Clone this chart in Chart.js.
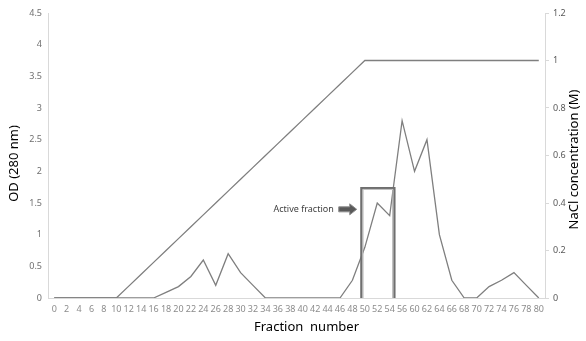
<!DOCTYPE html>
<html>
<head>
<meta charset="utf-8">
<script src="https://cdn.jsdelivr.net/npm/chart.js"></script>
<style>
    body { margin: 0; background: #fff; }
    #wrap { width: 586px; height: 341px; }
</style>
</head>
<body>
<div id="wrap"><canvas id="elution-chart"></canvas></div>

<script>
    // Fraction numbers (58 is not on the original axis)
    var fractions = [0, 2, 4, 6, 8, 10, 12, 14, 16, 18, 20, 22, 24, 26, 28, 30, 32, 34, 36, 38,
                     40, 42, 44, 46, 48, 50, 52, 54, 56, 60, 62, 64, 66, 68, 70, 72, 74, 76, 78, 80];

    // OD at 280 nm
    var odValues = [0, 0, 0, 0, 0, 0, 0, 0, 0, 0.09, 0.18, 0.34, 0.6, 0.2, 0.7, 0.4, 0.2, 0, 0, 0,
                    0, 0, 0, 0, 0.28, 0.8, 1.5, 1.3, 2.8, 2.0, 2.5, 1.0, 0.28, 0, 0, 0.18, 0.28, 0.4, 0.2, 0];

    // NaCl gradient (M)
    var naclValues = [0, 0, 0, 0, 0, 0, 0.05, 0.1, 0.15, 0.2, 0.25, 0.3, 0.35, 0.4, 0.45, 0.5, 0.55, 0.6, 0.65, 0.7,
                      0.75, 0.8, 0.85, 0.9, 0.95, 1, 1, 1, 1, 1, 1, 1, 1, 1, 1, 1, 1, 1, 1, 1];

    var odTicks = [0, 0.5, 1, 1.5, 2, 2.5, 3, 3.5, 4, 4.5];
    var naclTicks = [0, 0.2, 0.4, 0.6, 0.8, 1, 1.2];

    // Active fraction bracket: from / to fraction, top (OD), arrow level (OD)
    var activeRange = [49.5, 54.7];
    var activeTop = 1.73;
    var arrowLevel = 1.4;

    var grey = '#7f7f7f';
    var titleFont = '13px "Noto Sans", sans-serif';

    function fractionIndex(f) {
        for (var i = 0; i < fractions.length - 1; i++) {
            if (f >= fractions[i] && f <= fractions[i + 1]) {
                return i + (f - fractions[i]) / (fractions[i + 1] - fractions[i]);
            }
        }
        return fractions.length - 1;
    }

    function plainTick(v) { return String(Math.round(v * 10) / 10); }

    // bracket + arrow + label, and the axis titles (both side titles read bottom to top)
    var activeFractionPlugin = {
        id: 'activeFraction',
        afterDatasetsDraw: function(chart) {
            var ctx = chart.ctx;
            var x = chart.scales.x, y = chart.scales.y;
            var x1 = x.getPixelForValue(fractionIndex(activeRange[0]));
            var x2 = x.getPixelForValue(fractionIndex(activeRange[1]));
            var yTop = y.getPixelForValue(activeTop);
            var yBot = y.getPixelForValue(0);
            ctx.save();
            ctx.lineJoin = 'miter';
            ctx.strokeStyle = '#6f6f6f';
            ctx.lineWidth = 3;
            ctx.beginPath();
            ctx.moveTo(x1, yBot); ctx.lineTo(x1, yTop); ctx.lineTo(x2, yTop); ctx.lineTo(x2, yBot);
            ctx.stroke();
            ctx.strokeStyle = '#c8c8c8';
            ctx.lineWidth = 1;
            ctx.beginPath();
            ctx.moveTo(x1 + 1, yBot); ctx.lineTo(x1 + 1, yTop + 1); ctx.lineTo(x2 - 1, yTop + 1); ctx.lineTo(x2 - 1, yBot);
            ctx.stroke();

            // arrow
            var ay = y.getPixelForValue(arrowLevel);
            var tip = x1 - 5, tail = tip - 18;
            ctx.beginPath();
            ctx.moveTo(tail, ay - 2.5);
            ctx.lineTo(tip - 7, ay - 2.5);
            ctx.lineTo(tip - 7, ay - 5.5);
            ctx.lineTo(tip, ay);
            ctx.lineTo(tip - 7, ay + 5.5);
            ctx.lineTo(tip - 7, ay + 2.5);
            ctx.lineTo(tail, ay + 2.5);
            ctx.closePath();
            ctx.fillStyle = '#595959';
            ctx.fill();
            ctx.strokeStyle = '#8c8c8c';
            ctx.lineWidth = 1;
            ctx.stroke();

            ctx.fillStyle = '#404040';
            ctx.font = '9px "Noto Sans", sans-serif';
            ctx.textAlign = 'right';
            ctx.textBaseline = 'middle';
            ctx.fillText('Active fraction', tail - 5, ay);
            ctx.restore();
        },
        afterDraw: function(chart) {
            var ctx = chart.ctx;
            var area = chart.chartArea;
            var midY = (area.top + area.bottom) / 2 + 8;
            ctx.save();
            ctx.fillStyle = '#000';
            ctx.font = titleFont;
            ctx.textAlign = 'center';
            ctx.textBaseline = 'middle';
            ctx.fillText('Fraction  number', (area.left + area.right) / 2 + 10, 327);

            ctx.translate(14, midY);
            ctx.rotate(-Math.PI / 2);
            ctx.fillText('OD (280 nm)', 0, 0);
            ctx.restore();

            ctx.save();
            ctx.fillStyle = '#000';
            ctx.font = titleFont;
            ctx.textAlign = 'center';
            ctx.textBaseline = 'middle';
            ctx.translate(574, midY - 4);
            ctx.rotate(-Math.PI / 2);
            ctx.fillText('NaCl concentration (M)', 0, 0);
            ctx.restore();
        }
    };

    document.addEventListener("DOMContentLoaded", function() {
        Chart.defaults.font.family = '"Noto Sans", sans-serif';
        var ctx = document.getElementById('elution-chart').getContext('2d');
        var elutionChart = new Chart(ctx, {
            type: 'line',
            data: {
                labels: fractions,
                datasets: [{
                    label: 'OD (280 nm)',
                    data: odValues,
                    yAxisID: 'y',
                    borderColor: grey,
                    borderWidth: 1.3,
                    pointRadius: 0,
                    tension: 0
                }, {
                    label: 'NaCl (M)',
                    data: naclValues,
                    yAxisID: 'y1',
                    borderColor: grey,
                    borderWidth: 1.3,
                    pointRadius: 0,
                    tension: 0
                }]
            },
            options: {
                responsive: true,
                maintainAspectRatio: false,
                animation: false,
                layout: { padding: { top: 13 } },
                plugins: {
                    legend: { display: false },
                    tooltip: { enabled: false }
                },
                scales: {
                    x: {
                        type: 'category',
                        offset: true,
                        grid: { display: false, drawTicks: false },
                        border: { color: '#d9d9d9' },
                        ticks: {
                            autoSkip: false, maxRotation: 0, minRotation: 0,
                            color: '#8c8c8c', font: { size: 9 }, padding: 6
                        },
                        afterFit: function(scale) { scale.height = 43; }
                    },
                    y: {
                        position: 'left',
                        min: odTicks[0], max: odTicks[odTicks.length - 1],
                        afterBuildTicks: function(scale) {
                            scale.ticks = odTicks.map(function(v) { return { value: v }; });
                        },
                        grid: { display: false, drawTicks: false },
                        border: { color: '#d9d9d9' },
                        ticks: { color: '#6f6f6f', font: { size: 9 }, padding: 6, callback: plainTick },
                        afterFit: function(scale) { scale.width = 48; }
                    },
                    y1: {
                        position: 'right',
                        min: naclTicks[0], max: naclTicks[naclTicks.length - 1],
                        afterBuildTicks: function(scale) {
                            scale.ticks = naclTicks.map(function(v) { return { value: v }; });
                        },
                        grid: { drawOnChartArea: false, tickLength: 4, color: '#d9d9d9' },
                        border: { color: '#d9d9d9' },
                        ticks: { color: '#595959', font: { size: 9 }, padding: 4, callback: plainTick },
                        afterFit: function(scale) { scale.width = 41; }
                    }
                }
            },
            plugins: [activeFractionPlugin]
        });
    });
</script>
</body>
</html>
